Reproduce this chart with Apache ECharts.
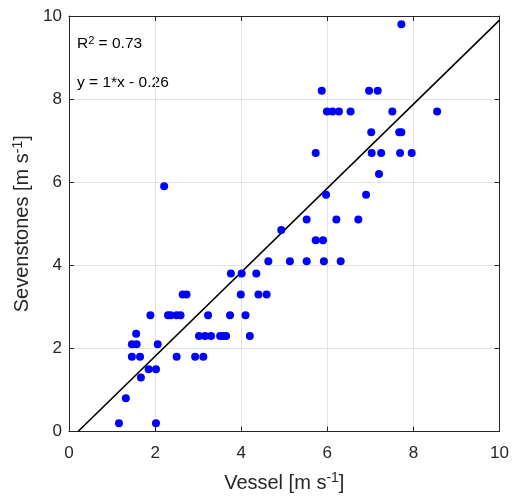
<!DOCTYPE html>
<html><head><meta charset="utf-8">
<script src="https://cdn.jsdelivr.net/npm/echarts@6/dist/echarts.min.js"></script>
<style>html,body{margin:0;padding:0;background:#fff}#c{width:512px;height:498px}</style>
</head><body><div id="c"></div>
<script>
var vessel = [1.16,2.02,1.32,1.67,1.85,2.02,1.46,1.65,1.46,1.57,1.56,2.06,1.89,2.30,2.36,2.50,2.59,2.64,2.73,2.50,2.21,2.93,3.12,3.02,3.16,3.30,3.23,3.51,3.57,3.65,3.74,3.76,4.01,3.99,4.10,4.20,4.35,4.40,4.59,4.63,4.93,5.13,5.52,5.52,7.72,5.87,6.97,7.17,5.99,6.12,6.27,6.54,7.51,8.55,7.02,7.67,7.72,5.73,7.03,7.25,7.69,7.96,7.20,5.97,6.90,6.21,6.72,5.73,5.90,5.92,6.31];
var sevenstones = [0.2,0.2,0.8,1.3,1.5,1.5,1.8,1.8,2.1,2.1,2.35,2.1,2.8,2.8,2.8,2.8,2.8,3.3,3.3,1.8,5.9,1.8,1.8,2.3,2.3,2.3,2.8,2.3,2.3,2.3,2.8,3.8,3.8,3.3,2.8,2.3,3.8,3.3,3.3,4.1,4.85,4.1,4.1,5.1,9.8,8.2,8.2,8.2,7.7,7.7,7.7,7.7,7.7,7.7,7.2,7.2,7.2,6.7,6.7,6.7,6.7,6.7,6.2,5.7,5.7,5.1,5.1,4.6,4.6,4.1,4.1];
var fitX = [0.21, 10];
var fitY = [0, 9.9];
var ticks = [0, 2, 4, 6, 8, 10];
var r2Text = '0.73';
var eqText = 'y = 1*x - 0.26';

var pts = vessel.map(function(v, i){ return [v, sevenstones[i]]; });
var line = fitX.map(function(v, i){ return [v, fitY[i]]; });
var axisCol = '#262626';
var font = 'Liberation Sans, Arial, sans-serif';
function baseAxis(extra){
  var a = {
    type: 'value', min: ticks[0], max: ticks[ticks.length-1], interval: 2,
    axisLine: {show: true, onZero: false, lineStyle: {color: axisCol, width: 1}},
    axisTick: {show: true, inside: true, length: 5, lineStyle: {color: axisCol}},
    splitLine: {show: false},
    axisLabel: {show: false}
  };
  for (var k in extra) a[k] = extra[k];
  return a;
}
var supStyle = {fontSize: 14, fontFamily: font, color: axisCol, verticalAlign: 'top', padding: [0,0,9,0]};
var chart = echarts.init(document.getElementById('c'), null, {renderer: 'canvas'});
chart.setOption({
  animation: false,
  backgroundColor: '#fff',
  grid: {left: 69, right: 10, top: 16, bottom: 64, containLabel: false},
  xAxis: [
    baseAxis({position: 'bottom',
      splitLine: {show: true, lineStyle: {color: '#e3e3e3', width: 1}},
      axisLabel: {show: true, color: axisCol, fontSize: 17, fontFamily: font, margin: 13},
      name: 'Vessel [m s{sup|-1}]', nameLocation: 'middle', nameGap: 40,
      nameTextStyle: {color: axisCol, fontSize: 20, fontFamily: font, rich: {sup: supStyle}}
    }),
    baseAxis({position: 'top'})
  ],
  yAxis: [
    baseAxis({position: 'left',
      splitLine: {show: true, lineStyle: {color: '#e3e3e3', width: 1}},
      axisLabel: {show: true, color: axisCol, fontSize: 17, fontFamily: font, margin: 7},
      name: 'Sevenstones [m s{sup|-1}]', nameLocation: 'middle', nameGap: 30,
      nameTextStyle: {color: axisCol, fontSize: 20, fontFamily: font, rich: {sup: supStyle}}
    }),
    baseAxis({position: 'right'})
  ],
  graphic: [
    {type: 'text', left: 77, top: 35, style: {
      text: 'R{sup|2} = ' + r2Text, fill: '#000', font: '15.5px Liberation Sans, Arial, sans-serif',
      rich: {sup: {fontSize: 11, fill: '#000', verticalAlign: 'top', padding: [0,0,7,0]}}}},
    {type: 'text', left: 77, top: 75, style: {
      text: eqText, fill: '#000', font: '15.5px Liberation Sans, Arial, sans-serif'}}
  ],
  series: [
    {type: 'line', data: line, xAxisIndex: 0, yAxisIndex: 0, symbol: 'none',
      lineStyle: {color: '#000', width: 1.6}, z: 3},
    {type: 'scatter', data: pts, xAxisIndex: 0, yAxisIndex: 0, symbol: 'circle', symbolSize: 8,
      itemStyle: {color: '#0000ff', opacity: 1}, z: 4}
  ]
});
</script></body></html>
